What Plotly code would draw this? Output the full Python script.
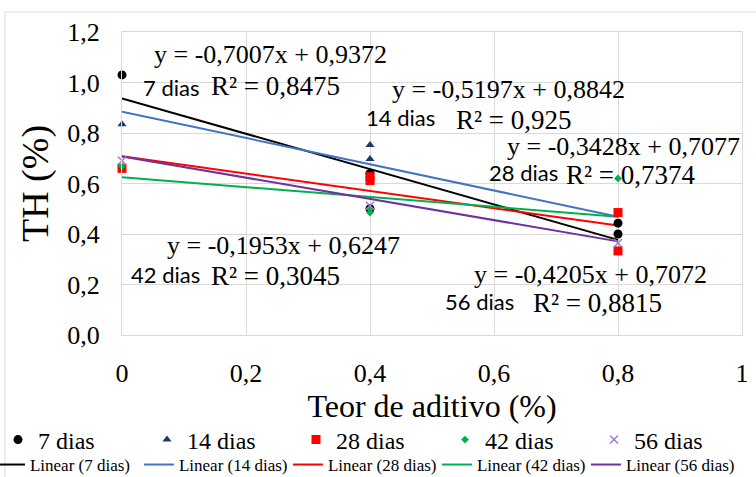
import plotly.graph_objects as go

# Observed TH (%) values by additive content and curing age
x_7 = [0.0, 0.4, 0.4, 0.8, 0.8]
y_7 = [1.03, 0.64, 0.50, 0.443, 0.40]

x_14 = [0.0, 0.4, 0.4]
y_14 = [0.835, 0.752, 0.697]

x_28 = [0.0, 0.4, 0.4, 0.8, 0.8]
y_28 = [0.66, 0.627, 0.612, 0.485, 0.333]

x_42 = [0.0, 0.4, 0.4, 0.8]
y_42 = [0.668, 0.50, 0.485, 0.62]

x_56 = [0.0, 0.4, 0.8]
y_56 = [0.69, 0.512, 0.364]

# Linear trendline coefficients (slope, intercept, R²)
slopes = [-0.7007, -0.5197, -0.3428, -0.1953, -0.4205]
intercepts = [0.9372, 0.8842, 0.7077, 0.6247, 0.7072]
r2_values = ["0,8475", "0,925", "0,7374", "0,3045", "0,8815"]
ages = ["7 dias", "14 dias", "28 dias", "42 dias", "56 dias"]
trend_x = [0.0, 0.8]

x_ticks = [0, 0.2, 0.4, 0.6, 0.8, 1]
x_ticktext = ["0", "0,2", "0,4", "0,6", "0,8", "1"]

SERIF = "Liberation Serif, Times New Roman, serif"
SANS = "Lato, Open Sans, sans-serif"

marker_styles = [
    dict(symbol="circle", size=9, color="#000000"),
    dict(symbol="triangle-up", size=8, color="#203864"),
    dict(symbol="square", size=9, color="#ff0000"),
    dict(symbol="diamond", size=6, color="#00b050"),
    dict(symbol="x-thin-open", size=8, color="#9b7cc4",
         line=dict(width=1.5, color="#9b7cc4")),
]
line_colors = ["#000000", "#4472c4", "#ff0000", "#00b050", "#7030a0"]

xs = [x_7, x_14, x_28, x_42, x_56]
ys = [y_7, y_14, y_28, y_42, y_56]

fig = go.Figure()

# Trendlines first so the markers sit on top of them
for i in range(5):
    ty = [slopes[i] * v + intercepts[i] for v in trend_x]
    fig.add_trace(go.Scatter(
        x=trend_x, y=ty, mode="lines", name=f"Linear ({ages[i]})",
        line=dict(color=line_colors[i], width=2), legend="legend2",
    ))

for i in range(5):
    fig.add_trace(go.Scatter(
        x=xs[i], y=ys[i], mode="markers", name=ages[i],
        marker=marker_styles[i], legend="legend", cliponaxis=False,
    ))


def fmt(v):
    return f"{v:.4f}".replace(".", ",").rstrip("0")


# Equation / R² label positions (data coordinates)
eq_pos = [(0.048, 1.109), (0.432, 0.972), (0.618, 0.745), (0.069, 0.356), (0.565, 0.238)]
age_pos = [(0.030, 0.982), (0.390, 0.860), (0.588, 0.642), (0.012, 0.238), (0.518, 0.131)]
r2_pos = [(0.140, 0.988), (0.535, 0.853), (0.713, 0.634), (0.140, 0.234), (0.660, 0.127)]

annotations = []
for i in range(5):
    eq = f"y = {fmt(slopes[i])}x + {fmt(intercepts[i])}"
    annotations.append(dict(x=eq_pos[i][0], y=eq_pos[i][1], text=eq,
                            xanchor="left", yanchor="middle", showarrow=False,
                            font=dict(family=SERIF, size=26, color="#000000")))
    annotations.append(dict(x=age_pos[i][0], y=age_pos[i][1], text=ages[i],
                            xanchor="left", yanchor="middle", showarrow=False,
                            font=dict(family=SANS, size=22, color="#000000")))
    annotations.append(dict(x=r2_pos[i][0], y=r2_pos[i][1], text=f"R² = {r2_values[i]}",
                            xanchor="left", yanchor="middle", showarrow=False,
                            font=dict(family=SERIF, size=27, color="#000000")))

fig.update_layout(
    width=756, height=477,
    margin=dict(l=122, r=14, t=32, b=142, autoexpand=False),
    paper_bgcolor="#ffffff", plot_bgcolor="#ffffff",
    separators=",.",
    font=dict(family=SERIF, color="#000000"),
    annotations=annotations,
    shapes=[dict(type="rect", xref="paper", yref="paper",
                 x0=-0.1887, x1=1.2, y0=-0.6, y1=1.066,
                 line=dict(color="#d9d9d9", width=1), fillcolor="rgba(0,0,0,0)",
                 layer="below")],
    xaxis=dict(range=[0, 1], tickvals=x_ticks, ticktext=x_ticktext,
               showgrid=True, gridcolor="#d9d9d9", gridwidth=1,
               showline=True, linecolor="#d9d9d9", mirror=True, zeroline=False,
               ticks="", ticklabelstandoff=15,
               tickfont=dict(family=SERIF, size=26, color="#000000"),
               title=dict(text="Teor de aditivo (%)", standoff=4,
                          font=dict(family=SERIF, size=32, color="#000000"))),
    yaxis=dict(range=[0, 1.2], dtick=0.2, tickformat=".1f",
               showgrid=True, gridcolor="#d9d9d9", gridwidth=1,
               showline=True, linecolor="#d9d9d9", mirror=True, zeroline=False,
               ticks="", ticklabelstandoff=16,
               tickfont=dict(family=SERIF, size=26, color="#000000"),
               title=dict(text="TH (%)", standoff=6,
                          font=dict(family=SERIF, size=38, color="#000000"))),
    legend=dict(orientation="h", x=-0.2, xanchor="left", y=-0.3465, yanchor="middle",
                entrywidth=104, entrywidthmode="pixels",
                font=dict(family=SERIF, size=24, color="#000000"),
                bgcolor="rgba(0,0,0,0)", itemclick=False, tracegroupgap=0),
    legend2=dict(orientation="h", x=-0.213, xanchor="left", y=-0.429, yanchor="middle",
                 entrywidth=104, entrywidthmode="pixels",
                 font=dict(family=SERIF, size=17, color="#000000"),
                 bgcolor="rgba(0,0,0,0)", itemclick=False, tracegroupgap=0),
)

fig.write_html("out.html")
